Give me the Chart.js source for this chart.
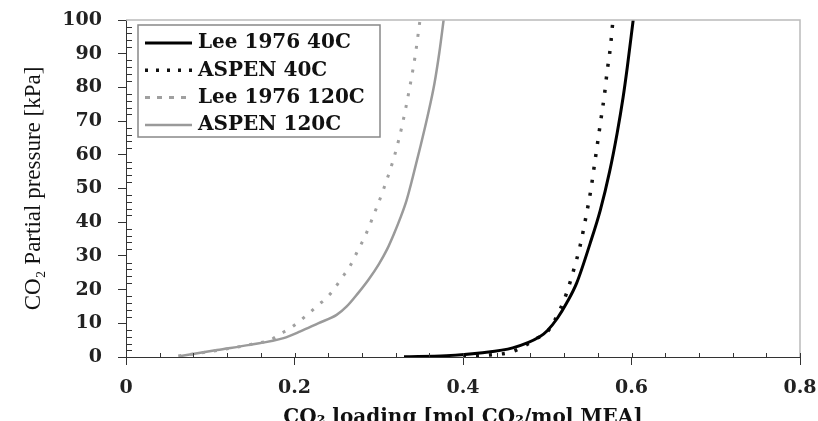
<!DOCTYPE html>
<html lang="en">
<head>
<meta charset="UTF-8">
<title>CO2 loading</title>
<script src="https://cdn.jsdelivr.net/npm/chart.js"></script>
<style>
    html, body { margin: 0; padding: 0; background: #fff; }
    #wrap { width: 818px; height: 421px; }
</style>
</head>
<body>
<div id="wrap"><canvas id="vleChart" width="818" height="421"></canvas></div>
<script>
// values
var lee40X = [0.33, 0.38, 0.42, 0.459, 0.491, 0.50, 0.512, 0.523, 0.535, 0.551, 0.563, 0.574, 0.583, 0.590, 0.595, 0.602];
var lee40Y = [0.1, 0.4, 1.2, 2.7, 6, 7.8, 11.5, 16, 22, 33.8, 43.6, 55, 66.5, 77, 86, 100];

var aspen40X = [0.40, 0.432, 0.456, 0.471, 0.488, 0.500, 0.515, 0.523, 0.531, 0.539, 0.547, 0.552, 0.556, 0.560, 0.564, 0.568, 0.571, 0.575, 0.578];
var aspen40Y = [0.1, 0.6, 1.4, 3, 5.6, 7.4, 14, 19, 25.5, 33, 43, 50, 57, 64, 71, 78, 84.6, 92, 100];

var lee120X = [0.062, 0.088, 0.127, 0.151, 0.171, 0.183, 0.197, 0.215, 0.228, 0.238, 0.248, 0.256, 0.266, 0.274, 0.284, 0.293, 0.306, 0.319, 0.328, 0.336, 0.343, 0.349];
var lee120Y = [0.3, 1.2, 2.7, 3.9, 5.0, 6.8, 8.9, 12.5, 15.4, 17.5, 20.5, 23.4, 27, 31, 36, 41.5, 50, 60, 69, 79, 89, 100];

var aspen120X = [0.065, 0.108, 0.147, 0.187, 0.207, 0.228, 0.25, 0.262, 0.275, 0.288, 0.300, 0.310, 0.318, 0.326, 0.333, 0.340, 0.349, 0.358, 0.366, 0.372, 0.377];
var aspen120Y = [0.3, 2.1, 3.6, 5.6, 7.6, 10, 12.5, 15, 18.8, 23, 27.5, 32, 36.5, 41.5, 46.5, 53, 62, 71.5, 81, 90.5, 100];

var seriesNames = ['Lee 1976 40C', 'ASPEN 40C', 'Lee 1976 120C', 'ASPEN 120C'];
var xTicks = [0, 0.2, 0.4, 0.6, 0.8];
var yTicks = [0, 10, 20, 30, 40, 50, 60, 70, 80, 90, 100];

function toPoints(xs, ys) {
    return xs.map(function (x, i) { return { x: x, y: ys[i] }; });
}

var serifBold = "'DejaVu Serif', serif";

// minor ticks, frame and the boxed legend
var framePlugin = {
    id: 'frame',
    afterDraw: function (chart) {
        var ctx = chart.ctx;
        var a = chart.chartArea;
        var xs = chart.scales.x, ys = chart.scales.y;
        ctx.save();

        // top and right frame in grey
        ctx.strokeStyle = '#bbbbbb';
        ctx.lineWidth = 1.5;
        ctx.beginPath();
        ctx.moveTo(a.left, a.top);
        ctx.lineTo(a.right, a.top);
        ctx.lineTo(a.right, a.bottom);
        ctx.stroke();

        ctx.strokeStyle = '#333';
        ctx.lineWidth = 1;
        ctx.beginPath();
        // minor y ticks, inside
        for (var v = 2; v < 100; v += 2) {
            if (v % 10 === 0) continue;
            var py = Math.round(ys.getPixelForValue(v)) + 0.5;
            ctx.moveTo(a.left, py);
            ctx.lineTo(a.left + 6, py);
        }
        // x ticks, above axis
        for (var k = 1; k <= 20; k++) {
            var px = Math.round(xs.getPixelForValue(k * 0.04)) + 0.5;
            ctx.moveTo(px, a.bottom);
            ctx.lineTo(px, a.bottom - 4);
        }
        ctx.stroke();

        // legend box
        var bx = 138, by = 25, bw = 242, bh = 112;
        ctx.fillStyle = '#fff';
        ctx.fillRect(bx, by, bw, bh);
        ctx.strokeStyle = '#888';
        ctx.lineWidth = 1.5;
        ctx.strokeRect(bx, by, bw, bh);

        ctx.font = 'bold 20px ' + serifBold;
        ctx.textBaseline = 'middle';
        ctx.textAlign = 'left';
        chart.data.datasets.forEach(function (ds, i) {
            var cy = by + 18 + i * 27.3;
            ctx.save();
            ctx.strokeStyle = ds.borderColor;
            ctx.lineWidth = ds.borderWidth;
            ctx.setLineDash(ds.legendDash || []);
            ctx.beginPath();
            ctx.moveTo(bx + 7, cy);
            ctx.lineTo(bx + 54, cy);
            ctx.stroke();
            ctx.restore();
            ctx.fillStyle = '#111';
            ctx.fillText(ds.label, bx + 60, cy);
        });
        ctx.restore();
    }
};

var ctx = document.getElementById('vleChart').getContext('2d');
var vleChart = new Chart(ctx, {
    type: 'line',
    data: {
        datasets: [{
            label: seriesNames[0],
            data: toPoints(lee40X, lee40Y),
            borderColor: '#000',
            borderWidth: 3,
            legendDash: []
        }, {
            label: seriesNames[1],
            data: toPoints(aspen40X, aspen40Y),
            borderColor: '#111',
            borderWidth: 3.5,
            borderDash: [3, 10],
            legendDash: [3, 8]
        }, {
            label: seriesNames[2],
            data: toPoints(lee120X, lee120Y),
            borderColor: '#a0a0a0',
            borderWidth: 3,
            borderDash: [3, 9],
            legendDash: [5, 7]
        }, {
            label: seriesNames[3],
            data: toPoints(aspen120X, aspen120Y),
            borderColor: '#9a9a9a',
            borderWidth: 2.5,
            legendDash: []
        }]
    },
    options: {
        responsive: false,
        animation: false,
        cubicInterpolationMode: 'monotone',
        elements: { point: { radius: 0 } },
        layout: { padding: { top: 20, right: 18, left: 0, bottom: 0 } },
        plugins: { legend: { display: false }, tooltip: { enabled: false } },
        scales: {
            x: {
                type: 'linear',
                min: 0,
                max: 0.8,
                afterFit: function (s) {
                    s.height = 64;
                    s.paddingLeft = 0; s.paddingRight = 0;
                },
                afterBuildTicks: function (s) { s.ticks = xTicks.map(function (v) { return { value: v }; }); },
                ticks: {
                    color: '#222',
                    padding: 12,
                    font: { family: serifBold, size: 19, weight: 'bold' },
                    callback: function (v) { return v === 0 ? '0' : v.toFixed(1); }
                },
                grid: { drawOnChartArea: false, tickLength: 8, color: '#333', offset: false },
                border: { color: '#333', width: 1 },
                title: {
                    display: true,
                    text: 'CO\u2082 loading [mol CO\u2082/mol MEA]',
                    color: '#111',
                    font: { family: serifBold, size: 20, weight: 'bold' },
                    padding: { top: 0, bottom: -9 }
                }
            },
            y: {
                min: 0,
                max: 100,
                afterFit: function (s) {
                    s.width = 126;
                    s.paddingTop = 0; s.paddingBottom = 0;
                },
                afterBuildTicks: function (s) { s.ticks = yTicks.map(function (v) { return { value: v }; }); },
                ticks: {
                    color: '#222',
                    padding: 16,
                    font: { family: serifBold, size: 19, weight: 'bold' }
                },
                grid: { drawOnChartArea: false, tickLength: 8, color: '#333' },
                border: { color: '#333', width: 1 },
                title: {
                    display: true,
                    text: 'CO\u2082 Partial pressure [kPa]',
                    color: '#111',
                    font: { family: "'Liberation Serif', serif", size: 23, weight: 'normal' },
                    padding: { top: 20, bottom: 0 }
                }
            }
        }
    },
    plugins: [framePlugin]
});
</script>
</body>
</html>
